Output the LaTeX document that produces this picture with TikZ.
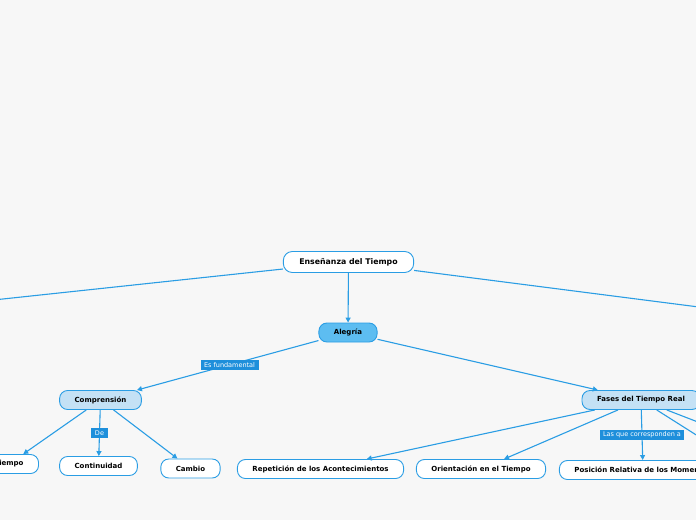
\documentclass[tikz,border=0pt]{standalone}
\usepackage{fontspec}
\setmainfont{DejaVu Sans}
\usetikzlibrary{arrows.meta, positioning}

\definecolor{mapblue}{HTML}{2A9DE4}
\definecolor{mapdark}{HTML}{1E8FDB}
\definecolor{mapmid}{HTML}{5DBDF1}
\definecolor{maplight}{HTML}{C4E1F5}
\definecolor{mapbg}{HTML}{F7F7F7}

\tikzset{
  topic/.style={draw=mapblue, line width=0.9pt, rounded corners=9pt, fill=white,
                font=\bfseries\fontsize{7.8}{9}\selectfont, minimum height=21pt, inner xsep=16pt},
  maintopic/.style={draw=mapblue, line width=0.9pt, rounded corners=8pt, fill=mapmid,
                font=\bfseries\fontsize{7}{8}\selectfont, minimum height=19pt, inner xsep=15pt},
  subtopic/.style={draw=mapblue, line width=0.9pt, rounded corners=8pt, fill=maplight,
                font=\bfseries\fontsize{7}{8}\selectfont, minimum height=19pt, inner xsep=15pt},
  leaf/.style={draw=mapblue, line width=0.9pt, rounded corners=8pt, fill=white,
                font=\bfseries\fontsize{7}{8}\selectfont, minimum height=19pt, inner xsep=15pt},
  linklabel/.style={fill=mapdark, text=white, font=\fontsize{6.5}{7.5}\selectfont,
                inner xsep=3.5pt, inner ysep=2.3pt},
  link/.style={draw=mapblue, line width=1.1pt, -{Triangle[length=5pt, width=5pt]}}
}

\begin{document}
\begin{tikzpicture}[x=1pt, y=-1pt]
  % page and background
  \useasboundingbox (0,0) rectangle (696,520);
  \fill[mapbg] (0,0) rectangle (696,520);

  % nodes
  \node[topic] (root) at (348.5,262) {Enseñanza del Tiempo};
  \node[maintopic] (alegria) at (348,332.5) {Alegría};
  \node[subtopic] (comprension) at (100.5,400) {Comprensión};
  \node[subtopic] (fases) at (641,400) {Fases del Tiempo Real};

  \node[leaf] (tiempo) at (9,464) {Tiempo};
  \node[leaf] (continuidad) at (98.5,466) {Continuidad};
  \node[leaf] (cambio) at (190.5,468.5) {Cambio};
  \node[leaf] (repeticion) at (320.5,469) {Repetición de los Acontecimientos};
  \node[leaf] (orientacion) at (481,469) {Orientación en el Tiempo};
  \node[leaf] (posicion) at (643,470) {Posición Relativa de los Momentos};

  % branches leaving the page
  \coordinate (offleft) at (-100,310);
  \coordinate (offright) at (800,320);
  \coordinate (offfasesa) at (760,446);
  \coordinate (offfasesb) at (720,450);

  % connectors
  \draw[link] (root) -- (offleft);
  \draw[link] (root) -- (offright);
  \draw[link] (root) -- (alegria);
  \draw[link] (alegria) -- node[linklabel, pos=0.49] {Es fundamental} (comprension);
  \draw[link] (alegria) -- (fases);

  \draw[link] (comprension) -- (tiempo);
  \draw[link] (comprension) -- node[linklabel] {De} (continuidad);
  \draw[link] (comprension) -- (cambio);

  \draw[link] (fases) -- (repeticion);
  \draw[link] (fases) -- (orientacion);
  \draw[link] (fases) -- node[linklabel] {Las que corresponden a} (posicion);
  \draw[link] (fases) -- (offfasesa);
  \draw[link] (fases) -- (offfasesb);
\end{tikzpicture}
\end{document}
